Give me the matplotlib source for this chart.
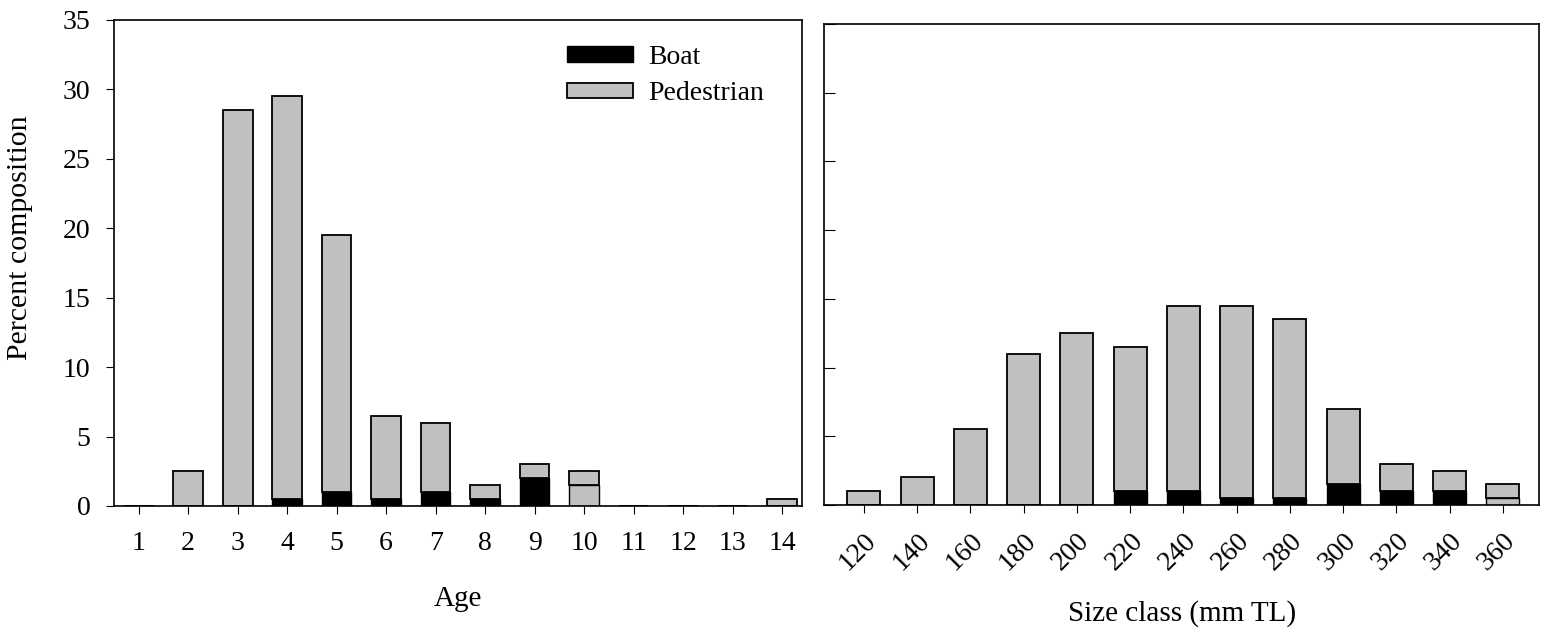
import numpy as np
import matplotlib.pyplot as plt

plt.rcParams['font.family'] = ['Liberation Serif', 'DejaVu Serif']

ages = [1, 2, 3, 4, 5, 6, 7, 8, 9, 10, 11, 12, 13, 14]
age_boat = [0, 0, 0, 0.5, 1.0, 0.5, 1.0, 0.5, 2.0, 0, 0, 0, 0, 0]
age_lower = [0, 0, 0, 0, 0, 0, 0, 0, 0, 1.5, 0, 0, 0, 0]
age_ped = [0, 2.5, 28.5, 29.0, 18.5, 6.0, 5.0, 1.0, 1.0, 1.0, 0, 0, 0, 0.5]

sizes = [120, 140, 160, 180, 200, 220, 240, 260, 280, 300, 320, 340, 360]
size_boat = [0, 0, 0, 0, 0, 1.0, 1.0, 0.5, 0.5, 1.5, 1.0, 1.0, 0]
size_lower = [0, 0, 0, 0, 0, 0, 0, 0, 0, 0, 0, 0, 0.5]
size_ped = [1.0, 2.0, 5.5, 11.0, 12.5, 10.5, 13.5, 14.0, 13.0, 5.5, 2.0, 1.5, 1.0]

gray = '#c0c0c0'
fs = 20
lfs = 21

fig = plt.figure(figsize=(15.48, 6.34), dpi=100)
ax1 = fig.add_axes([0.0736, 0.2019, 0.4444, 0.7666])
ax2 = fig.add_axes([0.5323, 0.2035, 0.4620, 0.7587])


def draw(ax, boat, lower, ped, w):
    x = np.arange(len(boat))
    boat = np.array(boat)
    lower = np.array(lower)
    ped = np.array(ped)
    hb = ax.bar(x, boat, w, color='black', edgecolor='black', linewidth=1, label='Boat')
    ax.bar(x, lower, w, bottom=boat, color=gray, edgecolor='black', linewidth=1)
    hp = ax.bar(x, ped, w, bottom=boat + lower, color=gray, edgecolor='black',
                linewidth=1.3, label='Pedestrian')
    return hb, hp


hb, hp = draw(ax1, age_boat, age_lower, age_ped, 0.6)
ax1.set_xlim(-0.5, 13.4)
ax1.set_ylim(0, 35)
ax1.set_xticks(np.arange(len(ages)))
ax1.set_xticklabels([str(a) for a in ages], fontsize=fs)
ax1.set_yticks(np.arange(0, 36, 5))
ax1.tick_params(axis='y', direction='out', length=6, labelsize=fs, pad=11)
ax1.tick_params(axis='x', direction='out', length=6, labelsize=fs, pad=12)
ax1.set_ylabel('Percent composition', fontsize=21.5)
ax1.yaxis.set_label_coords(-0.118, 0.553)
ax1.set_xlabel('Age', fontsize=lfs)
ax1.xaxis.set_label_coords(0.5, -0.165)
ax1.legend(handles=[hb, hp], loc='upper left', bbox_to_anchor=(0.642, 0.971),
           borderaxespad=0, frameon=False, fontsize=fs, handlelength=2.37,
           handleheight=0.5, handletextpad=0.55, labelspacing=0.4)

draw(ax2, size_boat, size_lower, size_ped, 0.62)
ax2.set_xlim(-0.75, 12.68)
ax2.set_ylim(0, 35)
ax2.set_xticks(np.arange(len(sizes)))
ax2.set_xticklabels([str(s) for s in sizes], fontsize=fs, rotation=45,
                    ha='right', rotation_mode='anchor')
ax2.set_yticks(np.arange(0, 36, 5))
ax2.set_yticklabels([])
ax2.tick_params(axis='y', direction='in', length=8)
ax2.tick_params(axis='x', direction='out', length=6, labelsize=fs, pad=11)
ax2.set_xlabel('Size class (mm TL)', fontsize=lfs)
ax2.xaxis.set_label_coords(0.5, -0.197)

for ax in (ax1, ax2):
    for s in ax.spines.values():
        s.set_linewidth(1.2)

fig.savefig('out.png', dpi=100)
